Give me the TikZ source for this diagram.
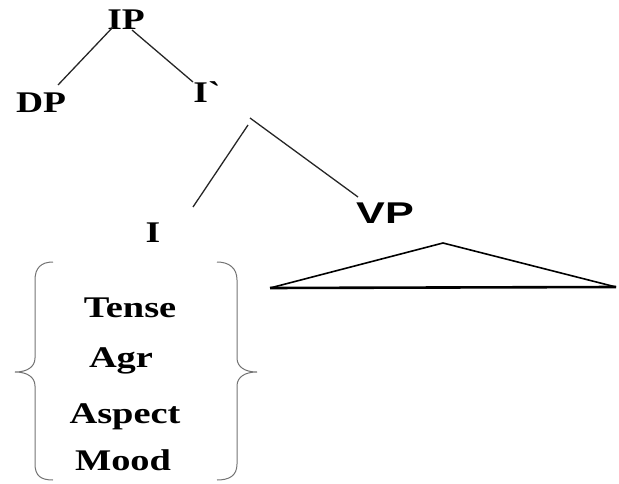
\documentclass[tikz,border=0pt]{standalone}
\usepackage{fontspec}
\setmainfont{Liberation Serif}[Ligatures=TeXOff]
\newfontfamily\vpfont{Liberation Sans}

\begin{document}
\begin{tikzpicture}[x=1pt, y=-1pt,
	word/.style={font=\fontsize{30}{32}\selectfont\bfseries, inner sep=0pt, anchor=base, xscale=1.25},
	feat/.style={font=\fontsize{30}{32}\selectfont\bfseries, inner sep=0pt, anchor=base, xscale=1.28},
	branch/.style={line width=1.3pt, black!85},
	brace/.style={line width=1pt, black!55},
	tri/.style={line width=1.6pt, black}]
	\useasboundingbox (0,0) rectangle (619,484);

	% Nodes {IP, DP, I', I, VP}
	\node [word] 	(ip) 	at (126,30) 	{IP};
	\node [word] 	(dp) 	at (41,113) 	{DP};
	\node [word] 	(ibar) 	at (207,103) 	{I{\char"60}};
	\node [word] 	(i) 	at (153,242) 	{I};
	\node [word, font=\fontsize{30}{32}\vpfont\bfseries, xscale=1.15] (vp) at (385,223) {VP};

	% Features under I
	\node [feat] 	(tense) 	at (130,317) 	{Tense};
	\node [feat] 	(agr) 		at (121,367) 	{Agr};
	\node [feat] 	(aspect) 	at (125,423) 	{Aspect};
	\node [feat] 	(mood) 		at (123,470) 	{Mood};

	% Branch ends
	\coordinate (ip-l) 		at (113,27);
	\coordinate (ip-r) 		at (132,30);
	\coordinate (dp-t) 		at (58,85);
	\coordinate (ibar-t) 	at (193,82);
	\coordinate (ibar-l) 	at (248,125);
	\coordinate (ibar-r) 	at (250,118);
	\coordinate (i-t) 		at (193,207);
	\coordinate (vp-t) 		at (358,197);

	% Paths {(IP,DP), (IP,I'), (I',I), (I',VP)}
	\path [branch]	(ip-l) edge (dp-t)
				(ip-r) edge (ibar-t)
				(ibar-l) edge (i-t)
				(ibar-r) edge (vp-t);

	% Triangle under VP
	\coordinate (tri-top) 	at (443,243);
	\coordinate (tri-l) 	at (270,288);
	\coordinate (tri-r) 	at (616,287);
	\draw [tri] (tri-l) -- (tri-top) -- (tri-r);
	\draw [tri, line width=2.6pt] (tri-l) -- (tri-r);

	% Braces
	\draw [brace] (53,262) .. controls (41,262) and (35,268) .. (35,280) -- (35,358)
		.. controls (35,367) and (27,372) .. (15,372)
		.. controls (27,372) and (35,377) .. (35,386) -- (35,464)
		.. controls (35,476) and (41,480) .. (53,480);
	\draw [brace] (217,262) .. controls (229,262) and (237,268) .. (237,280) -- (237,358)
		.. controls (237,367) and (245,372) .. (257,372)
		.. controls (245,372) and (237,377) .. (237,386) -- (237,464)
		.. controls (237,476) and (229,480) .. (217,480);
\end{tikzpicture}
\end{document}
